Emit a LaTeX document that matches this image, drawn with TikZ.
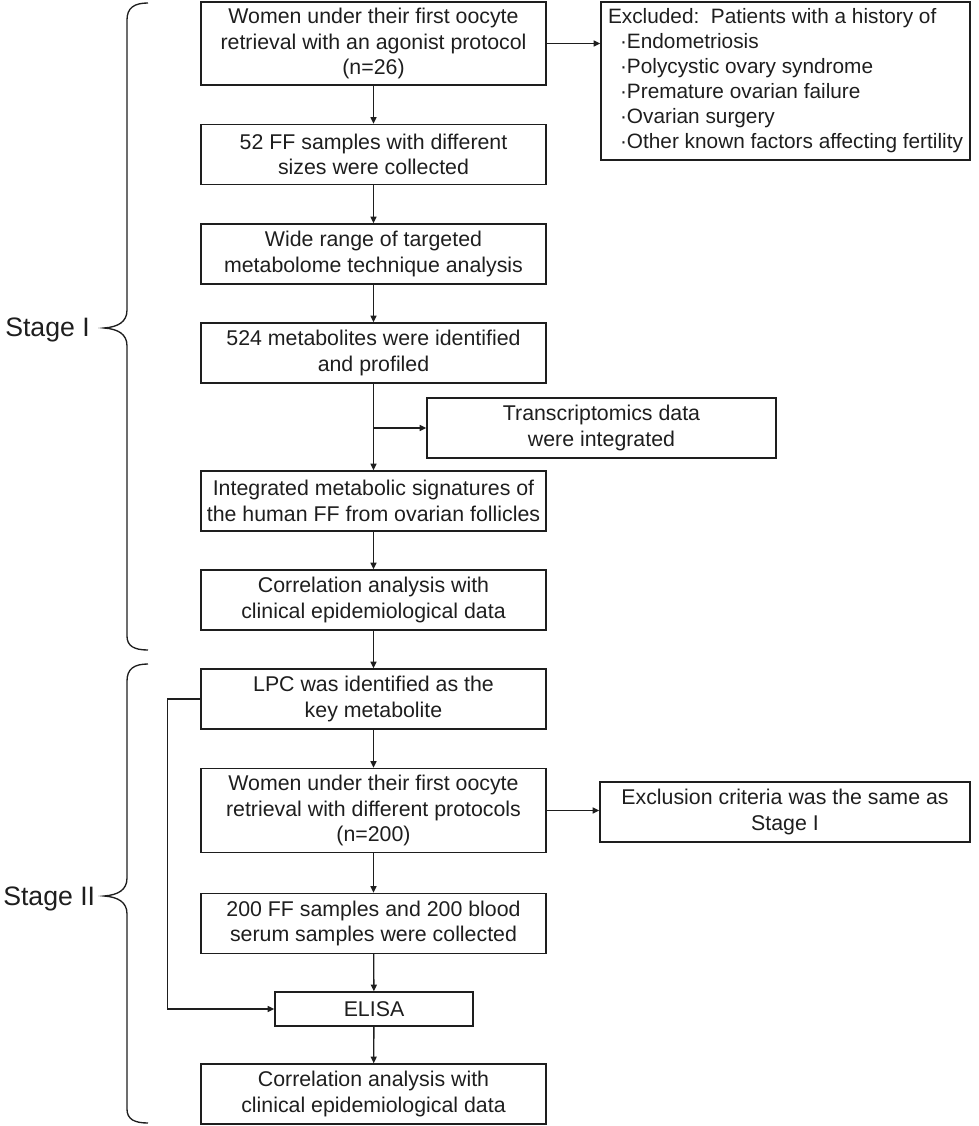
\documentclass[tikz,border=0pt]{standalone}
\usepackage{fontspec}
\setmainfont{Liberation Sans}
\usetikzlibrary{arrows.meta}
\definecolor{ink}{HTML}{1E1E1E}
\begin{document}
\begin{tikzpicture}[x=0.75pt,y=-0.75pt,
 box/.style={draw=ink,text=ink,line width=1.1pt,align=center,inner sep=0pt,minimum width=258.75pt,minimum height=45pt,font=\fontsize{16}{19}\selectfont},
 arr/.style={draw=ink,line width=1pt,-{Triangle[length=5pt,width=4.5pt]}},
 brc/.style={draw=ink,line width=1pt},
 lbl/.style={text=ink,font=\fontsize{20}{24}\selectfont,anchor=base west,inner sep=0pt}]
\useasboundingbox (0,0) rectangle (978,1126);

% main column
\node[box,minimum height=62.25pt] (b1) at (373.5,43.5) {Women under their first oocyte\\retrieval with an agonist protocol\\(n=26)};
\node[box] (b2) at (373.5,154.5) {52 FF samples with different\\sizes were collected};
\node[box] (b3) at (373.5,254) {Wide range of targeted\\metabolome technique analysis};
\node[box] (b4) at (373.5,353) {524 metabolites were identified\\and profiled};
\node[box,minimum width=261.75pt] (tr) at (601.5,428) {Transcriptomics data\\were integrated};
\node[box] (b5) at (373.5,501) {Integrated metabolic signatures of\\the human FF from ovarian follicles};
\node[box] (b6) at (373.5,600) {Correlation analysis with\\clinical epidemiological data};
\node[box] (b7) at (373.5,699) {LPC was identified as the\\key metabolite};
\node[box,minimum height=63pt] (b8) at (373.5,810.5) {Women under their first oocyte\\retrieval with different protocols\\(n=200)};
\node[box,minimum width=277.5pt] (ex2) at (785,812) {Exclusion criteria was the same as\\Stage I};
\node[box] (b9) at (373.5,923.5) {200 FF samples and 200 blood\\serum samples were collected};
\node[box,minimum width=148.5pt,minimum height=25.5pt] (el) at (374,1009) {ELISA};
\node[box,minimum width=276.75pt,minimum height=118.5pt,align=left,font=\fontsize{15.6}{18.75}\selectfont] (ex1) at (785.5,81)
 {Excluded:\ \ Patients with a history of\\
 \hspace*{9pt}·Endometriosis\\
 \hspace*{9pt}·Polycystic ovary syndrome\\
 \hspace*{9pt}·Premature ovarian failure\\
 \hspace*{9pt}·Ovarian surgery\\
 \hspace*{9pt}·Other known factors affecting fertility};
\node[box] (b10) at (373.5,1094) {Correlation analysis with\\clinical epidemiological data};

% connectors
\draw[arr] (b1) -- (b2);
\draw[arr] (b2) -- (b3);
\draw[arr] (b3) -- (b4);
\draw[arr] (b4) -- (b5);
\coordinate (br) at (b4.south |- tr.west);
\draw[arr] (br) -- (tr.west);
\draw[arr] (b5) -- (b6);
\draw[arr] (b6) -- (b7);
\draw[arr] (b7) -- (b8);
\draw[arr] (b8) -- (b9);
\draw[arr] (b9) -- (el);
\draw[arr] (el) -- (b10);
\draw[arr] (b1.east) -- (b1.east -| ex1.west);
\draw[arr] (b8.east) -- (b8.east -| ex2.west);
\draw[arr] (b7.west) -- ++(-33,0) |- (el.west);

% braces
\draw[brc] (148,3) .. controls (134,3) and (127,8) .. (127,20) -- (127,310)
  .. controls (127,322) and (118,327) .. (104,328)
  .. controls (118,329) and (127,334) .. (127,346) -- (127,636)
  .. controls (127,646) and (134,650) .. (148,650);
\draw[brc] (148,664) .. controls (134,664) and (127,669) .. (127,681) -- (127,878)
  .. controls (127,890) and (118,895) .. (104,896)
  .. controls (118,897) and (127,902) .. (127,914) -- (127,1109)
  .. controls (127,1119) and (134,1123) .. (148,1123);

\node[lbl] (s1) at (5,337) {Stage I};
\node[lbl] (s2) at (3,905) {Stage II};
\end{tikzpicture}
\end{document}
